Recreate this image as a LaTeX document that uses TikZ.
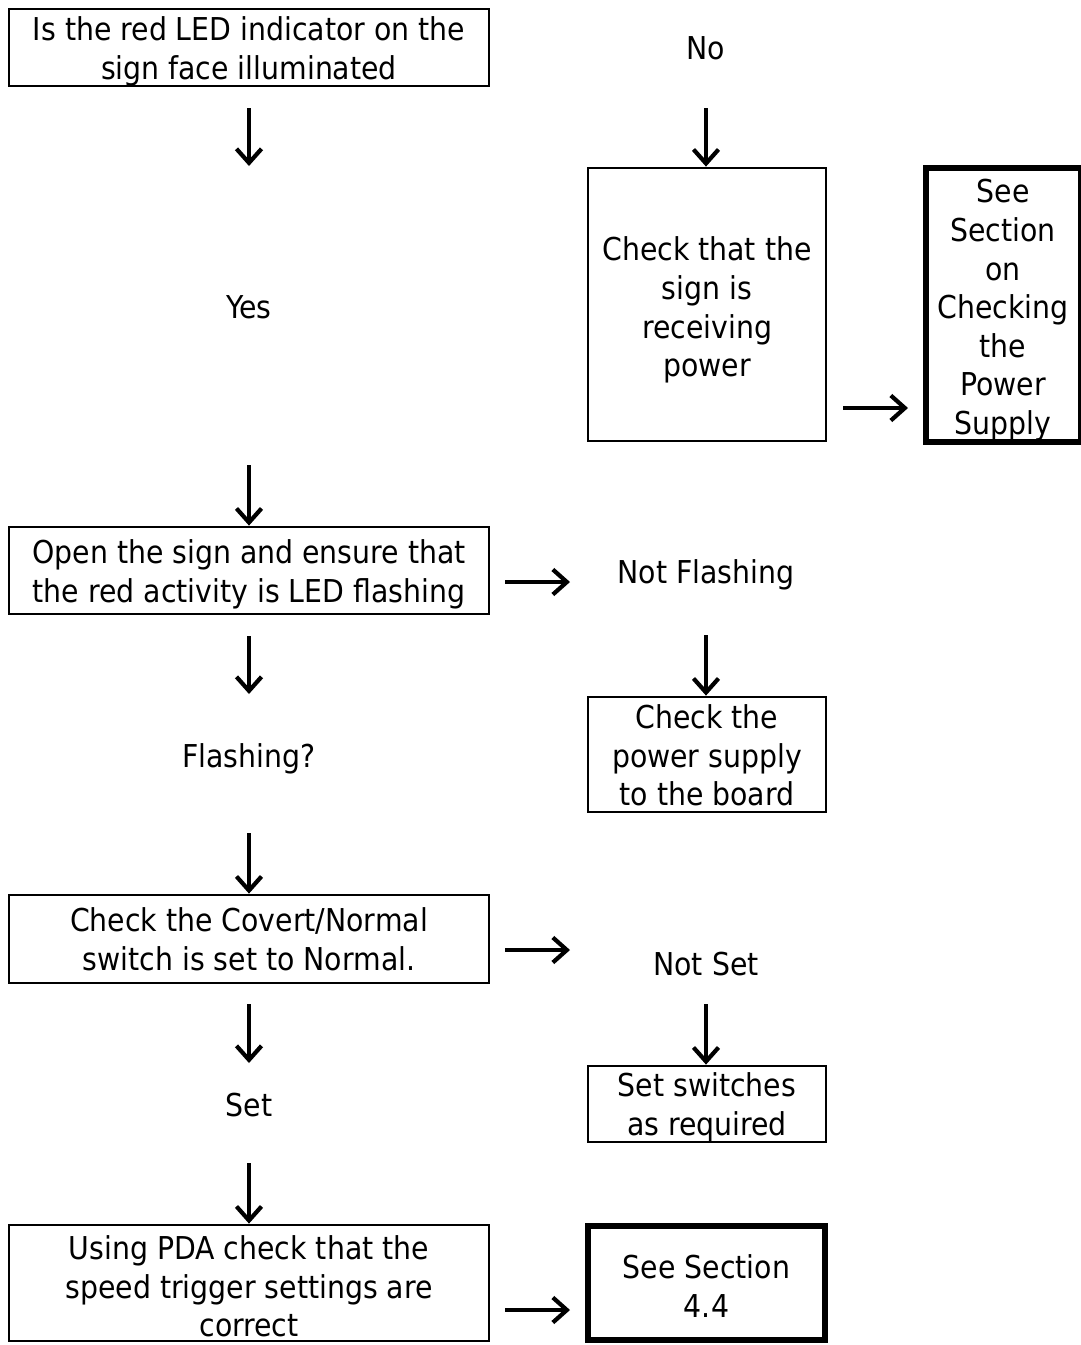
\documentclass[tikz,border=0pt]{standalone}
\usepackage{fontspec}
\setmainfont{DejaVu Sans Condensed}
\usetikzlibrary{arrows.meta}
\tikzset{
  box/.style={draw, rectangle, line width=2.8pt, inner sep=0pt},
  heavybox/.style={draw, rectangle, line width=6pt, inner sep=0pt},
  txt/.style={inner sep=0pt, font={\fontsize{31.5}{38.6}\selectfont}},
  arr/.style={line width=3.2pt, -{Straight Barb[length=14pt,width=25pt,line width=4.2pt]}}
}
\newcommand{\lines}[1]{\begin{tabular}{@{}c@{}}#1\end{tabular}}
\begin{document}
\begin{tikzpicture}[x=1pt,y=-1pt]
\useasboundingbox (0,0) rectangle (1080,1345);
% boxes
\node[box, minimum width=480, minimum height=77] (b1) at (249,47.5) {};
\node[box, minimum width=238, minimum height=273] (b2) at (707,304.5) {};
\node[heavybox, minimum width=155, minimum height=274] (b3) at (1003.5,305) {};
\node[box, minimum width=480, minimum height=87] (b4) at (249,570.5) {};
\node[box, minimum width=238, minimum height=115] (b5) at (707,754.5) {};
\node[box, minimum width=480, minimum height=88] (b6) at (249,939) {};
\node[box, minimum width=238, minimum height=76] (b7) at (707,1104) {};
\node[box, minimum width=480, minimum height=116] (b8) at (249,1283) {};
\node[heavybox, minimum width=237, minimum height=114] (b9) at (706.5,1283) {};
% texts
\node[txt] (t1) at (249,52) {\lines{Is the red LED indicator on the\\sign face illuminated}};
\node[txt] (tNo) at (706,51.3) {\lines{No}};
\node[txt] (t2) at (707,311) {\lines{Check that the\\sign is\\receiving\\power}};
\node[txt] (t3) at (1003,311) {\lines{See\\Section\\on\\Checking\\the\\Power\\Supply}};
\node[txt] (tYes) at (249,310.3) {\lines{Yes}};
\node[txt] (t4) at (249,575) {\lines{Open the sign and ensure that\\the red activity is LED flashing}};
\node[txt] (tNF) at (706,575.3) {\lines{Not Flashing}};
\node[txt] (t5) at (707,759.5) {\lines{Check the\\power supply\\to the board}};
\node[txt] (tF) at (249,759.3) {\lines{Flashing?}};
\node[txt] (t6) at (249,943) {\lines{Check the Covert/Normal\\switch is set to Normal.}};
\node[txt] (tNS) at (706,967.3) {\lines{Not Set}};
\node[txt] (t7) at (707,1108) {\lines{Set switches\\as required}};
\node[txt] (tSet) at (249,1108.3) {\lines{Set}};
\node[txt] (t8) at (249,1290.5) {\lines{Using PDA check that the\\speed trigger settings are\\correct}};
\node[txt] (t9) at (706.5,1290) {\lines{See Section\\4.4}};
% arrow end points
\coordinate (a1s) at (249,108);
\coordinate (a1e) at (249,166);
\coordinate (a2s) at (706,108);
\coordinate (a13s) at (843,408);
\coordinate (a13e) at (908,408);
\coordinate (a3s) at (249,465);
\coordinate (a4s) at (505,582);
\coordinate (a4e) at (570,582);
\coordinate (a5s) at (706,635);
\coordinate (a6s) at (249,636);
\coordinate (a6e) at (249,694);
\coordinate (a7s) at (249,833);
\coordinate (a8s) at (505,950);
\coordinate (a8e) at (570,950);
\coordinate (a9s) at (706,1004);
\coordinate (a10s) at (249,1004);
\coordinate (a10e) at (249,1063);
\coordinate (a11s) at (249,1163);
\coordinate (a12s) at (505,1310);
\coordinate (a12e) at (570,1310);
% arrows
\draw[arr] (a1s) -- (a1e);
\draw[arr] (a2s) -- (a2s |- b2.north);
\draw[arr] (a13s) -- (a13e);
\draw[arr] (a3s) -- (a3s |- b4.north);
\draw[arr] (a4s) -- (a4e);
\draw[arr] (a5s) -- (a5s |- b5.north);
\draw[arr] (a6s) -- (a6e);
\draw[arr] (a7s) -- (a7s |- b6.north);
\draw[arr] (a8s) -- (a8e);
\draw[arr] (a9s) -- (a9s |- b7.north);
\draw[arr] (a10s) -- (a10e);
\draw[arr] (a11s) -- (a11s |- b8.north);
\draw[arr] (a12s) -- (a12e);
\end{tikzpicture}
\end{document}
